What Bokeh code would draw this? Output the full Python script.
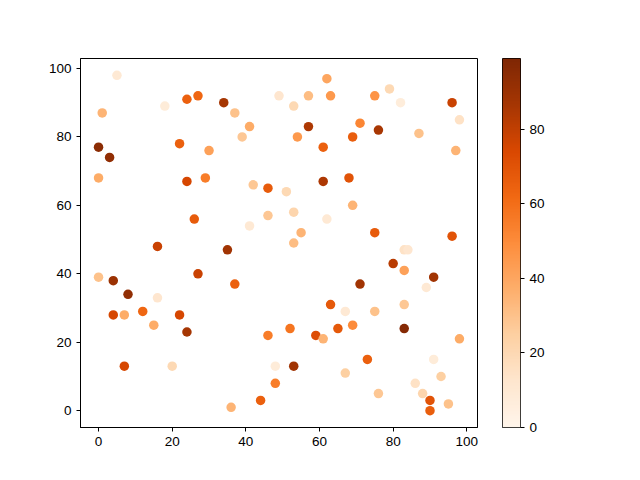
import numpy as np
from bokeh.plotting import figure
from bokeh.layouts import row
from bokeh.models import ColumnDataSource, LinearColorMapper, FixedTicker, Range1d
from bokeh.palettes import Oranges256
from bokeh.embed import file_html
from bokeh.resources import INLINE

# 散点数据 (x, y, 颜色值)
xs = [5, 1, 18, 24, 27, 34, 37, 41, 39, 0, 3, 22, 30, 0, 24, 29, 42, 46, 26, 41, 46,
      49, 62, 57, 63, 53, 75, 79, 82, 96, 98, 57, 54, 71, 69, 76, 87, 61, 97, 61, 68,
      51, 69, 53, 62, 55, 75, 96, 53,
      16, 35, 0, 4, 8, 16, 27, 37, 4, 7, 12, 15, 22, 24, 46, 7, 20, 48, 48, 44, 36,
      83, 84, 80, 83, 91, 89, 71, 63, 67, 75, 83, 83, 52, 59, 61, 65, 69, 98, 53, 73,
      67, 76, 91, 93, 86, 88, 90, 90, 95]
ys = [98, 87, 89, 91, 92, 90, 87, 83, 80, 77, 74, 78, 76, 68, 67, 68, 66, 65, 56, 54, 57,
      92, 97, 92, 92, 89, 92, 94, 90, 90, 85, 83, 80, 84, 80, 82, 81, 77, 76, 67, 68,
      64, 60, 58, 56, 52, 52, 51, 49,
      48, 47, 39, 38, 34, 33, 40, 37, 28, 28, 29, 25, 28, 23, 22, 13, 13, 13, 8, 3, 1,
      47, 47, 43, 41, 39, 36, 37, 31, 29, 29, 31, 24, 24, 22, 21, 24, 25, 21, 13, 15,
      11, 5, 15, 10, 8, 5, 3, 0, 2]
cs = [10, 35, 8, 65, 63, 87, 30, 38, 28, 95, 93, 65, 42, 38, 75, 55, 28, 67, 67, 10, 28,
      12, 40, 32, 45, 20, 47, 20, 7, 78, 15, 85, 45, 52, 66, 86, 30, 65, 35, 85, 70,
      20, 35, 22, 10, 35, 67, 70, 32,
      78, 88, 30, 90, 93, 12, 78, 65, 75, 38, 63, 38, 75, 87, 55, 75, 20, 8, 55, 65, 35,
      15, 12, 82, 42, 88, 10, 88, 68, 10, 30, 28, 97, 58, 72, 35, 68, 50, 38, 88, 65,
      25, 28, 8, 25, 15, 22, 70, 66, 30]

axis_ticks = [0, 20, 40, 60, 80, 100]
cbar_ticks = [0, 20, 40, 60, 80]
c_low, c_high = 0, 99

source = ColumnDataSource(data=dict(x=xs, y=ys, c=cs))
mapper = LinearColorMapper(palette=tuple(reversed(Oranges256)), low=c_low, high=c_high)


def style_axis(ax, ticks):
    ax.ticker = FixedTicker(ticks=ticks)
    ax.major_tick_in = 0
    ax.major_tick_out = 4
    ax.minor_tick_line_color = None
    ax.axis_line_color = "black"
    ax.major_tick_line_color = "black"
    ax.major_label_text_font = "Liberation Sans"
    ax.major_label_text_font_size = "13.5px"
    ax.major_label_text_color = "black"


# 主图
p = figure(width=485, height=464, output_backend="svg", toolbar_location=None,
           x_range=Range1d(-4.9, 102.9), y_range=Range1d(-4.9, 102.9),
           min_border_left=80, min_border_right=8, min_border_top=58, min_border_bottom=37)
p.scatter('x', 'y', source=source, size=9.5, line_color=None,
          fill_color={'field': 'c', 'transform': mapper})
p.grid.visible = False
p.outline_line_color = "black"
p.outline_line_alpha = 1
style_axis(p.xaxis, axis_ticks)
style_axis(p.yaxis, axis_ticks)

# 颜色条
cb = figure(width=139, height=464, output_backend="svg", toolbar_location=None,
            x_range=Range1d(0, 1), y_range=Range1d(c_low, c_high),
            y_axis_location="right",
            min_border_left=17, min_border_right=104, min_border_top=58, min_border_bottom=37)
grad = np.linspace(c_low, c_high, 256).reshape(-1, 1)
cb.image(image=[grad], x=0, y=c_low, dw=1, dh=c_high - c_low, color_mapper=mapper)
cb.grid.visible = False
cb.xaxis.visible = False
cb.outline_line_color = "black"
cb.outline_line_alpha = 1
style_axis(cb.yaxis, cbar_ticks)
cb.yaxis.axis_line_color = None

layout = row(p, cb)
open("out.html", "w").write(file_html(layout, INLINE))
